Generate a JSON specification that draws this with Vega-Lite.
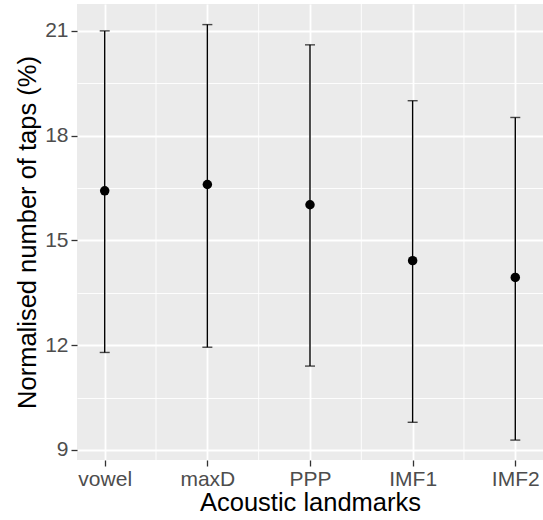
{
  "$schema": "https://vega.github.io/schema/vega-lite/v6.json",
  "width": 466,
  "height": 456,
  "autosize": {"type": "none"},
  "padding": {"left": 77, "top": 4, "right": 0, "bottom": 60},
  "background": "white",
  "config": {
    "view": {"fill": "#EBEBEB", "stroke": null},
    "font": "Liberation Sans",
    "axis": {
      "domain": false,
      "gridColor": "white",
      "tickColor": "#333333",
      "tickWidth": 1.3,
      "tickSize": 6,
      "labelColor": "#4D4D4D",
      "labelFontSize": 21,
      "labelFont": "Liberation Sans",
      "titleFontSize": 25.5,
      "titleFont": "Liberation Sans",
      "titleColor": "black",
      "titleFontWeight": "normal"
    }
  },
  "data": {
    "values": [
      {"landmark": "vowel", "mean": 16.42, "lower": 11.79, "upper": 21.0},
      {"landmark": "maxD", "mean": 16.6, "lower": 11.94, "upper": 21.18},
      {"landmark": "PPP", "mean": 16.02, "lower": 11.4, "upper": 20.6},
      {"landmark": "IMF1", "mean": 14.42, "lower": 9.79, "upper": 19.0},
      {"landmark": "IMF2", "mean": 13.94, "lower": 9.28, "upper": 18.52}
    ]
  },
  "encoding": {
    "x": {
      "field": "landmark",
      "type": "nominal",
      "sort": ["vowel", "maxD", "PPP", "IMF1", "IMF2"],
      "scale": {"type": "point", "padding": 0.27},
      "axis": {
        "title": "Acoustic landmarks",
        "labelAngle": 0,
        "labelPadding": 2,
        "titlePadding": 1,
        "grid": true,
        "gridWidth": 1.8
      }
    }
  },
  "layer": [
    {
      "transform": [{"filter": "datum.landmark != 'IMF2'"}],
      "mark": {"type": "rule", "xOffset": 51.3, "color": "white", "strokeWidth": 0.9},
      "encoding": {}
    },
    {
      "mark": {"type": "rule", "color": "black", "strokeWidth": 1.4},
      "encoding": {
        "y": {
          "field": "lower",
          "type": "quantitative",
          "title": "Normalised number of taps (%)",
          "scale": {"domain": [8.71, 21.77], "nice": false, "zero": false},
          "axis": {
            "values": [9, 10.5, 12, 13.5, 15, 16.5, 18, 19.5, 21],
            "labelExpr": "datum.value % 3 == 0 ? datum.label : ''",
            "gridWidth": {"condition": {"test": "datum.value % 3 == 0", "value": 1.8}, "value": 0.9},
            "tickOpacity": {"condition": {"test": "datum.value % 3 == 0", "value": 1}, "value": 0},
            "labelPadding": 3,
            "titlePadding": 4
          }
        },
        "y2": {"field": "upper"}
      }
    },
    {
      "mark": {"type": "tick", "color": "black", "size": 10, "thickness": 1.4},
      "encoding": {
        "y": {"field": "lower", "type": "quantitative", "title": "Normalised number of taps (%)"}
      }
    },
    {
      "mark": {"type": "tick", "color": "black", "size": 10, "thickness": 1.4},
      "encoding": {
        "y": {"field": "upper", "type": "quantitative", "title": "Normalised number of taps (%)"}
      }
    },
    {
      "mark": {"type": "point", "filled": true, "color": "black", "size": 90, "opacity": 1},
      "encoding": {
        "y": {"field": "mean", "type": "quantitative", "title": "Normalised number of taps (%)"}
      }
    }
  ]
}
